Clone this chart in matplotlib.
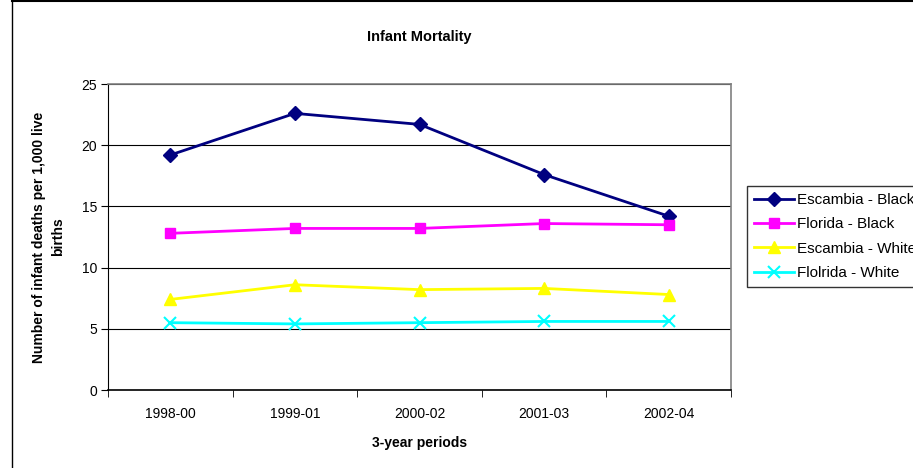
import matplotlib
matplotlib.use("Agg")
import matplotlib.pyplot as plt
from matplotlib.lines import Line2D

plt.rcParams['font.family'] = ['Liberation Sans', 'DejaVu Sans']

periods = ["1998-00", "1999-01", "2000-02", "2001-03", "2002-04"]
escambia_black = [19.2, 22.6, 21.7, 17.6, 14.2]
florida_black = [12.8, 13.2, 13.2, 13.6, 13.5]
escambia_white = [7.4, 8.6, 8.2, 8.3, 7.8]
florida_white = [5.5, 5.4, 5.5, 5.6, 5.6]

fig = plt.figure(figsize=(9.13, 4.68), dpi=100)
W, H = 913.0, 468.0
ax = fig.add_axes([108 / W, 1 - 390 / H, (731 - 108) / W, (390 - 84) / H])

x = range(len(periods))
ax.plot(x, escambia_black, color="#000080", marker="D", markersize=7, lw=2,
        label="Escambia - Black")
ax.plot(x, florida_black, color="#FF00FF", marker="s", markersize=7, lw=2,
        label="Florida - Black")
ax.plot(x, escambia_white, color="#FFFF00", marker="^", markersize=9, lw=2,
        label="Escambia - White")
ax.plot(x, florida_white, color="#00FFFF", marker="x", markersize=9, mew=1.5, lw=2,
        label="Flolrida - White")

ax.set_xlim(-0.5, 4.5)
ax.set_ylim(0, 25)
ax.set_yticks(range(0, 26, 5))
ax.set_xticks(list(x))
ax.set_xticklabels(periods)
ax.set_xticks([i - 0.5 for i in range(6)], minor=True)
ax.tick_params(axis="x", which="major", length=0, pad=12, labelsize=10)
ax.tick_params(axis="x", which="minor", length=5, direction="out")
ax.tick_params(axis="y", length=5, direction="out", labelsize=10, pad=3)
ax.yaxis.grid(True, color="black", lw=0.8)
ax.set_axisbelow(True)
for s in ["top", "right"]:
    ax.spines[s].set_color("#808080")
    ax.spines[s].set_linewidth(1.2)
ax.spines["left"].set_color("black")
ax.spines["bottom"].set_color("black")
ax.spines["bottom"].set_linewidth(1.2)

ax.set_title("Infant Mortality", fontsize=10.5, fontweight="bold", pad=31)
ax.set_xlabel("3-year periods", fontsize=10, fontweight="bold", labelpad=11)
ax.set_ylabel("Number of infant deaths per 1,000 live\nbirths", fontsize=10,
              fontweight="bold", labelpad=12, linespacing=1.4)

leg = fig.legend(loc="upper left", bbox_to_anchor=(747 / W, 1 - 186 / H),
                 borderaxespad=0, frameon=True, fancybox=False,
                 edgecolor="black", fontsize=11, handlelength=2.6,
                 borderpad=0.45, labelspacing=0.68, handletextpad=0.25)
leg.get_frame().set_linewidth(1.0)

fig.add_artist(Line2D([12 / W, 12 / W], [0, 1], color="black", lw=1,
                      transform=fig.transFigure))
fig.add_artist(Line2D([12 / W, 1], [1 - 1 / H, 1 - 1 / H], color="black", lw=1.5,
                      transform=fig.transFigure))

fig.savefig("out.png", dpi=100)
